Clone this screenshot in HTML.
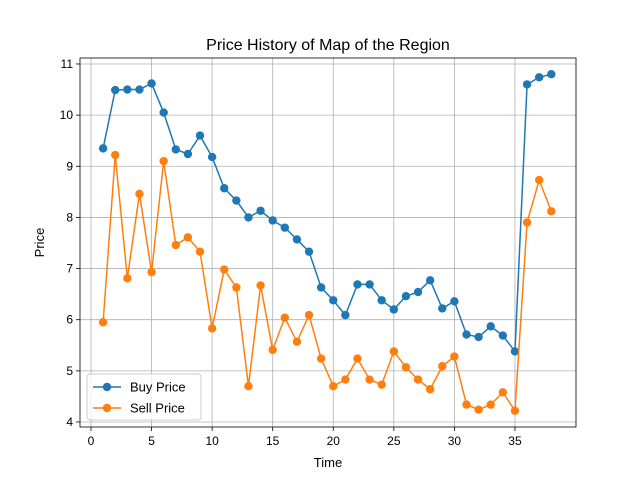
<!DOCTYPE html>
<html><head><meta charset="utf-8">
<style>
html,body{margin:0;padding:0;background:#fff;}
svg{display:block;font-family:"Liberation Sans","DejaVu Sans",sans-serif;}
</style></head>
<body>
<svg id="chart" width="640" height="480"></svg>
<script>
const times = [1,2,3,4,5,6,7,8,9,10,11,12,13,14,15,16,17,18,19,20,21,22,23,24,25,26,27,28,29,30,31,32,33,34,35,36,37,38];
const buyPrice = [9.35,10.49,10.5,10.5,10.62,10.05,9.33,9.24,9.6,9.18,8.57,8.33,8.0,8.13,7.94,7.8,7.57,7.33,6.63,6.38,6.09,6.69,6.69,6.38,6.2,6.46,6.54,6.77,6.22,6.36,5.71,5.66,5.87,5.69,5.38,10.6,10.74,10.8];
const sellPrice = [5.95,9.22,6.81,8.46,6.93,9.1,7.46,7.61,7.33,5.83,6.98,6.63,4.7,6.67,5.41,6.04,5.57,6.09,5.24,4.7,4.83,5.24,4.83,4.73,5.38,5.07,4.83,4.64,5.09,5.28,4.34,4.24,4.34,4.58,4.22,7.9,8.73,8.12];
const xTicks = [0,5,10,15,20,25,30,35];
const yTicks = [4,5,6,7,8,9,10,11];

const NS = "http://www.w3.org/2000/svg";
const svg = document.getElementById('chart');
const L = 80, R = 576, T = 58, B = 427;
const xMin = -0.908, xMax = 40.04, yMin = 3.902, yMax = 11.117;
function sx(v){ return L + (v - xMin) / (xMax - xMin) * (R - L); }
function sy(v){ return B - (v - yMin) / (yMax - yMin) * (B - T); }
function mk(tag, attrs, parent){
  const e = document.createElementNS(NS, tag);
  for (const k in attrs) e.setAttribute(k, attrs[k]);
  (parent || svg).appendChild(e);
  return e;
}

const title = mk('text', {x: (L+R)/2, y: 50, 'text-anchor': 'middle', 'font-size': 16, fill: '#000'});
title.textContent = 'Price History of Map of the Region';



xTicks.forEach(t => {
  const x = sx(t);
  const g = mk('line', {x1: x, x2: x, y1: T, y2: B, stroke: '#b0b0b0', 'stroke-width': 0.8});
  
  
  mk('line', {x1: x, x2: x, y1: B, y2: B + 4, stroke: '#000', 'stroke-width': 0.8});
  const lb = mk('text', {x: x, y: B + 18, 'text-anchor': 'middle', 'font-size': 12, fill: '#000'});
  lb.textContent = t;
  
  
});
yTicks.forEach(t => {
  const y = sy(t);
  const g = mk('line', {x1: L, x2: R, y1: y, y2: y, stroke: '#b0b0b0', 'stroke-width': 0.8});
  
  
  mk('line', {x1: L - 4, x2: L, y1: y, y2: y, stroke: '#000', 'stroke-width': 0.8});
  const lb = mk('text', {x: L - 7, y: y + 4, 'text-anchor': 'end', 'font-size': 12, fill: '#000'});
  lb.textContent = t;
  
  
});

function series(vals, color, name){
  const g = mk('g', {});
  
  
  const pts = vals.map((v, i) => sx(times[i]) + ',' + sy(v)).join(' ');
  mk('polyline', {points: pts, fill: 'none', stroke: color, 'stroke-width': 1.5}, g);
  vals.forEach((v, i) => {
    const c = mk('circle', {cx: sx(times[i]), cy: sy(v), r: 4.2, fill: color}, g);
    
    
  });
}
series(buyPrice, '#1f77b4', 'buy-price-series');
series(sellPrice, '#ff7f0e', 'sell-price-series');

const fr = mk('rect', {x: L, y: T, width: R - L, height: B - T, fill: 'none', stroke: '#000', 'stroke-width': 0.8});



const xt = mk('text', {x: (L+R)/2, y: 467, 'text-anchor': 'middle', 'font-size': 13, fill: '#000'});
xt.textContent = 'Time';


const yt = mk('text', {x: 0, y: 0, 'text-anchor': 'middle', 'font-size': 13, fill: '#000', transform: 'translate(44,' + ((T+B)/2) + ') rotate(-90)'});
yt.textContent = 'Price';



const lg = mk('g', {});


mk('rect', {x: 87, y: 374, width: 114, height: 46, rx: 3, fill: '#fff', 'fill-opacity': 0.8, stroke: '#ccc', 'stroke-width': 1}, lg);
[['Buy Price', '#1f77b4', 387], ['Sell Price', '#ff7f0e', 408]].forEach(([label, color, y]) => {
  const e = mk('g', {}, lg);
  
  
  mk('line', {x1: 93, x2: 121, y1: y, y2: y, stroke: color, 'stroke-width': 1.5}, e);
  mk('circle', {cx: 107, cy: y, r: 4.2, fill: color}, e);
  const t = mk('text', {x: 130, y: y + 4.5, 'font-size': 13, fill: '#000'}, e);
  t.textContent = label;
});
</script>
</body></html>
